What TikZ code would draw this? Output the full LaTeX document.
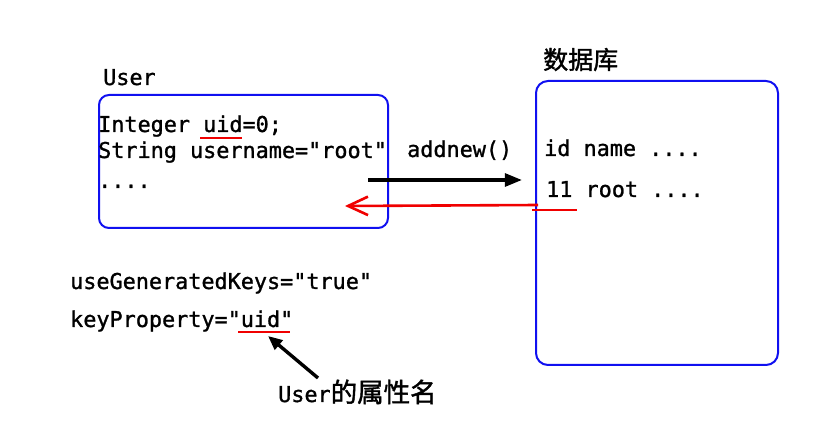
\documentclass[tikz,border=0pt]{standalone}
\usepackage{fontspec}
\setmonofont[FakeBold=1.2]{DejaVu Sans Mono}
\newfontfamily\cjk[FakeBold=1.5]{Noto Sans CJK SC}
\usetikzlibrary{arrows.meta,positioning,calc}
\definecolor{umlblue}{HTML}{1010F0}
\definecolor{markred}{HTML}{F00000}

\begin{document}
\begin{tikzpicture}[x=1pt,y=1pt,font=\ttfamily\fontsize{21.8}{25}\selectfont,
  frame/.style={rectangle, rounded corners=10pt, draw=umlblue, line width=2pt, inner sep=0pt},
  code/.style={anchor=base west, inner sep=0pt},
  uline/.style={draw=markred, line width=2.6pt},
  push/.style={-{Triangle[length=6mm,width=4.5mm]}, line width=3.4pt},
  back/.style={-{Straight Barb[length=7mm,width=6.5mm]}, draw=markred, line width=2.6pt}]
\useasboundingbox (0,0) rectangle (836,-430);
% boxes
\node[frame, minimum width=289pt, minimum height=133pt, anchor=north west] (user) at (98,-94) {};
\node[frame, minimum width=242pt, minimum height=284pt, anchor=north west, rounded corners=12pt] (db) at (535,-80) {};
\node[code] (usertitle) at (103,-85) {User};
\node[code, font=\cjk\fontsize{25}{29}\selectfont] (dbtitle) at (543,-69) {数据库};
% object fields
\node[code] (f1) at (98,-132) {Integer uid=0;};
\node[code] (f2) at (98,-158) {String username="root"};
\node[code] (f3) at (98,-188) {....};
% table rows
\node[code] (r1) at (544,-156) {id name ....};
\node[code] (r2) at (546,-197) {11 root ....};
\node[code] (call) at (407,-157) {addnew()};
% mapping attributes
\node[code] (keys) at (70,-289) {useGeneratedKeys="true"};
\node[code] (prop) at (70,-327) {keyProperty="uid"};
\node[code] (note) at (278,-402) {User{\cjk\fontsize{26.5}{30}\selectfont 的属性名}};
% underlines
\coordinate (u1a) at (200,-138); \coordinate (u1b) at (242,-138);
\coordinate (u2a) at (532,-210); \coordinate (u2b) at (577,-210);
\coordinate (u3a) at (238,-332); \coordinate (u3b) at (290,-332);
\draw[uline] (u1a) -- (u1b);
\draw[uline] (u2a) -- (u2b);
\draw[uline] (u3a) -- (u3b);
% arrows
\coordinate (goA) at (368,-180); \coordinate (goB) at (522,-180);
\coordinate (retA) at (538,-205); \coordinate (retB) at (345,-206);
\coordinate (ptA) at (318,-378); \coordinate (ptB) at (268,-336);
\draw[push] (goA) -- (goB);
\draw[back] (retA) -- (retB);
\draw[push, -{Triangle[length=5mm,width=4.2mm]}] (ptA) -- (ptB);
\end{tikzpicture}
\end{document}
